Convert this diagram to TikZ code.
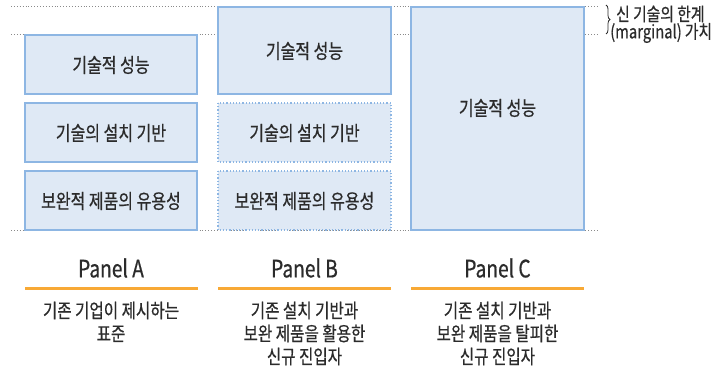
\documentclass[tikz,border=0pt]{standalone}
\usepackage{fontspec}
\setmainfont[FakeStretch=0.8,FakeBold=0.6]{Noto Sans CJK KR}
\usetikzlibrary{decorations.pathreplacing}
\definecolor{boxfill}{HTML}{DFE9F5}
\definecolor{boxline}{HTML}{8DB6E3}
\definecolor{orangeline}{HTML}{F8A935}
\definecolor{guide}{HTML}{8A8A8A}
\definecolor{txt}{HTML}{2B2B2B}
\tikzset{
  blk/.style={draw=boxline, fill=boxfill, line width=1.2pt},
  dblk/.style={draw=boxline, fill=boxfill, line width=1.2pt, dotted},
  guideline/.style={draw=guide, line width=0.9pt, dotted},
  lbl/.style={font=\fontsize{20}{24}\selectfont, text=txt, inner sep=0pt},
  plabel/.style={font=\fontsize{24}{28}\selectfont, text=txt, inner sep=0pt},
  desc/.style={font=\fontsize{19.5}{23}\selectfont, text=txt, align=center, inner sep=0pt},
  side/.style={font=\fontsize{18.5}{19}\selectfont, text=txt, anchor=west, inner sep=0pt},
  oline/.style={draw=orangeline, line width=2.2pt},
}
\begin{document}
\begin{tikzpicture}[x=1pt,y=-1pt]
\useasboundingbox (0,0) rectangle (724,374);
% guide lines
\coordinate (g1a) at (11,6); \coordinate (g1b) at (599,6);
\coordinate (g2a) at (11,34.5); \coordinate (g2b) at (599,34.5);
\coordinate (g3a) at (11,230); \coordinate (g3b) at (599,230);
\draw[guideline] (g1a) -- (g1b);
\draw[guideline] (g2a) -- (g2b);
\draw[guideline] (g3a) -- (g3b);
% Panel A
\draw[blk] (25,35) rectangle (197,94);
\node[lbl] (a1) at (111,65) {기술적 성능};
\draw[blk] (25,103) rectangle (197,162);
\node[lbl] (a2) at (111,133) {기술의 설치 기반};
\draw[blk] (25,171) rectangle (197,230);
\node[lbl] (a3) at (111,201) {보완적 제품의 유용성};
% Panel B
\draw[blk] (218,7) rectangle (391,94);
\node[lbl] (b1) at (304.5,51) {기술적 성능};
\draw[dblk] (218,103) rectangle (391,162);
\node[lbl] (b2) at (304.5,133) {기술의 설치 기반};
\draw[dblk] (218,171) rectangle (391,230);
\node[lbl] (b3) at (304.5,201) {보완적 제품의 유용성};
% Panel C
\draw[blk] (411,7) rectangle (584,230);
\node[lbl] (c1) at (497.5,108) {기술적 성능};
% brace
\coordinate (br1) at (606,5);
\coordinate (br2) at (606,34);
\draw[txt, line width=0.8pt, decorate, decoration={brace, amplitude=4pt}] (br1) -- (br2);
\node[side] (m1) at (616,14) {신 기술의 한계};
\node[side] (m2) at (610,33) {(marginal)\,가치};
% panel labels
\node[plabel] (pa) at (111,268) {Panel A};
\node[plabel] (pb) at (304.5,268) {Panel B};
\node[plabel] (pc) at (497.5,268) {Panel C};
\draw[oline] (25,288.5) -- (198,288.5);
\draw[oline] (218,288.5) -- (391,288.5);
\draw[oline] (411,288.5) -- (584,288.5);
% descriptions
\node[desc, anchor=north] (da) at (111,301.5) {기존 기업이 제시하는\\표준};
\node[desc, anchor=north] (db) at (304.5,301.5) {기존 설치 기반과\\보완 제품을 활용한\\신규 진입자};
\node[desc, anchor=north] (dc) at (497.5,301.5) {기존 설치 기반과\\보완 제품을 탈피한\\신규 진입자};
\end{tikzpicture}
\end{document}
